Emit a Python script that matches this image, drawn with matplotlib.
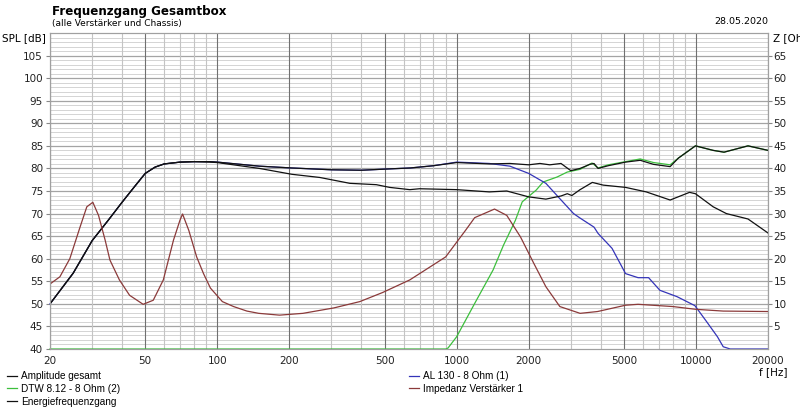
import matplotlib
matplotlib.use("Agg")
import matplotlib.pyplot as plt
from matplotlib.ticker import FixedLocator, NullFormatter

# ---------------------------------------------------------------- data
x_ticks = [20, 50, 100, 200, 500, 1000, 2000, 5000, 10000, 20000]

amp_f = [20, 25, 30, 35, 40, 45, 50, 55, 60, 70, 80, 93, 100, 150, 205, 300,
         400, 480, 525, 640, 800, 1000, 1370, 1670, 2000, 2230, 2450, 2730,
         3000, 3280, 3600, 3750, 3900, 4300, 5080, 5850, 6650, 7800, 8450,
         9950, 11800, 13100, 16500, 20000]
amp_db = [50.0, 56.8, 64.0, 68.5, 72.5, 75.9, 78.9, 80.3, 81.0, 81.4, 81.5,
          81.5, 81.4, 80.5, 80.1, 79.7, 79.6, 79.8, 79.9, 80.1, 80.6, 81.3,
          81.0, 81.1, 80.8, 81.1, 80.8, 81.1, 79.5, 80.0, 80.9, 81.1, 80.0,
          80.6, 81.4, 81.8, 80.9, 80.4, 82.3, 85.0, 84.0, 83.6, 85.0, 84.0]

dtw_f = [20, 900, 920, 1000, 1190, 1420, 1570, 1760, 1880, 2150, 2300, 2630,
         2900, 3280, 3680, 3900, 4300, 5080, 5850, 6650, 7800, 8450, 9950,
         11800, 13100, 16500, 20000]
dtw_db = [40.0, 40.0, 40.2, 42.7, 50.1, 57.5, 63.0, 68.5, 72.6, 75.2, 77.0,
          78.1, 79.2, 79.8, 81.2, 80.1, 80.8, 81.5, 82.1, 81.3, 80.8, 82.3,
          85.0, 84.0, 83.6, 85.0, 84.0]

al_f = [20, 25, 30, 35, 40, 45, 50, 55, 60, 70, 80, 93, 100, 150, 205, 300,
        400, 480, 525, 640, 800, 1000, 1370, 1670, 2000, 2360, 2700, 3080,
        3280, 3750, 3900, 4460, 5080, 5730, 6340, 7070, 8330, 9900, 11100,
        12300, 13000, 13900, 20000]
al_db = [50.0, 56.8, 64.0, 68.5, 72.5, 75.9, 78.9, 80.3, 81.0, 81.4, 81.5,
         81.5, 81.4, 80.5, 80.1, 79.7, 79.6, 79.8, 79.9, 80.1, 80.6, 81.4,
         81.1, 80.5, 78.9, 76.7, 73.3, 70.0, 69.0, 67.0, 65.6, 62.3, 56.7,
         55.8, 55.8, 53.0, 51.6, 49.6, 46.0, 42.7, 40.5, 40.0, 40.0]

energy_f = [20, 25, 30, 35, 40, 45, 50, 55, 60, 70, 80, 93, 100, 150, 205,
            268, 358, 462, 525, 637, 700, 1000, 1370, 1620, 2000, 2360, 2730,
            2900, 3030, 3280, 3690, 4100, 5080, 6200, 7800, 9400, 9950, 11800,
            13400, 16500, 20000]
energy_db = [50.0, 56.8, 64.0, 68.5, 72.5, 75.9, 78.9, 80.3, 81.0, 81.4, 81.5,
             81.4, 81.3, 80.0, 78.7, 78.0, 76.7, 76.4, 75.8, 75.3, 75.5, 75.3,
             74.8, 75.0, 73.7, 73.2, 73.9, 74.4, 74.0, 75.3, 76.9, 76.3, 75.8,
             74.8, 73.0, 74.7, 74.4, 71.5, 70.0, 68.8, 65.7]

imp_f = [20, 22, 24.2, 26.7, 28.5, 30.2, 31.9, 34, 35.6, 39, 43, 49, 54, 59.5,
         65.6, 69.8, 71.6, 76, 82, 87.6, 93.6, 105, 117, 133, 149, 182, 228,
         307, 394, 490, 637, 900, 1090, 1190, 1440, 1620, 1850, 2100, 2360,
         2700, 3280, 3880, 5080, 5730, 8020, 9950, 13000, 20000]
imp_ohm = [14.4, 16.0, 20.0, 27.0, 31.5, 32.5, 29.6, 24.1, 19.7, 15.3, 11.9,
           9.9, 10.8, 15.3, 24.1, 28.5, 29.9, 26.3, 20.4, 16.7, 13.5, 10.5,
           9.4, 8.4, 7.9, 7.5, 7.9, 9.1, 10.5, 12.5, 15.3, 20.4, 26.3, 29.1,
           31.0, 29.6, 24.8, 19.0, 13.8, 9.4, 7.9, 8.3, 9.7, 9.9, 9.4, 8.8,
           8.4, 8.3]

# ---------------------------------------------------------------- figure
plt.rcParams['font.family'] = ['DejaVu Sans']

fig = plt.figure(figsize=(8.0, 4.07), dpi=100)
ax = fig.add_axes([50 / 800, 1 - 349 / 407, 718 / 800, 316 / 407])
ax2 = ax.twinx()

ax.set_xscale('log')
ax.set_xlim(20, 20000)
ax.set_ylim(40, 110)
ax2.set_ylim(0, 70)

# grid: horizontal lines first, vertical lines over them
for v in range(41, 110):
    if v % 5:
        ax.axhline(v, color='#d4d4d4', lw=0.7, zorder=0)
for v in range(45, 110, 5):
    ax.axhline(v, color='#a4a4a4', lw=0.9, zorder=0)
minor_x = [m * 10 ** e for e in range(1, 5) for m in range(1, 10)]
minor_x = [v for v in minor_x if 20 <= v <= 20000 and v not in x_ticks]
for v in minor_x:
    ax.axvline(v, color='#c4c4c4', lw=0.8, zorder=0.5)
for v in x_ticks:
    ax.axvline(v, color='#707070', lw=0.8, zorder=0.5)

# curves
l_dtw, = ax.plot(dtw_f, dtw_db, color='#3cbf3c', lw=0.9, clip_on=False, zorder=2)
l_al, = ax.plot(al_f, al_db, color='#3434b8', lw=0.9, clip_on=False, zorder=2)
l_en, = ax.plot(energy_f, energy_db, color='#111111', lw=0.9, zorder=3)
l_amp, = ax.plot(amp_f, amp_db, color='#111111', lw=0.9, zorder=4)
l_imp, = ax2.plot(imp_f, imp_ohm, color='#8b3a3a', lw=0.9)

# axes / ticks
ax.xaxis.set_major_locator(FixedLocator(x_ticks))
ax.xaxis.set_minor_locator(FixedLocator([]))
ax.xaxis.set_minor_formatter(NullFormatter())
ax.set_xticklabels([str(v) for v in x_ticks])
ax.set_yticks(range(40, 110, 5))
ax2.set_yticks(range(5, 70, 5))
ax.tick_params(axis='x', length=0, pad=5, labelsize=7.5, colors='#222222')
ax.tick_params(axis='y', length=3, pad=2, labelsize=7.5, color='#888888',
               labelcolor='#222222')
ax2.tick_params(axis='y', length=3, pad=1, labelsize=7.5, color='#888888',
                labelcolor='#222222')
for a in (ax, ax2):
    for s in a.spines.values():
        s.set_color('#a0a0a0')
        s.set_linewidth(0.8)

# texts
fig.text(52 / 800, 1 - 12 / 407, 'Frequenzgang Gesamtbox', fontsize=8.6,
         fontweight='bold', va='center', ha='left')
fig.text(52 / 800, 1 - 23.5 / 407, '(alle Verstärker und Chassis)', fontsize=6.5,
         va='center', ha='left')
fig.text(768 / 800, 1 - 22 / 407, '28.05.2020', fontsize=6.8, va='center',
         ha='right')
fig.text(46 / 800, 1 - 38 / 407, 'SPL [dB]', fontsize=7.5, va='center',
         ha='right')
fig.text(773 / 800, 1 - 38 / 407, 'Z [Ohm]', fontsize=7.5, va='center',
         ha='left')
fig.text(773 / 800, 1 - 372 / 407, 'f [Hz]', fontsize=7.5, va='center',
         ha='center')

# legends
leg_kw = dict(frameon=False, prop={'family': 'Liberation Sans', 'size': 7.2},
              handlelength=1.0, handletextpad=0.4, labelspacing=0.28,
              borderaxespad=0, borderpad=0)
leg1 = fig.legend([l_amp, l_dtw, l_en],
                  ['Amplitude gesamt', 'DTW 8.12 - 8 Ohm (2)',
                   'Energiefrequenzgang'],
                  loc='upper left', bbox_to_anchor=(7 / 800, 1 - 371 / 407),
                  **leg_kw)
leg2 = fig.legend([l_al, l_imp],
                  ['AL 130 - 8 Ohm (1)', 'Impedanz Verstärker 1'],
                  loc='upper left', bbox_to_anchor=(409 / 800, 1 - 371 / 407),
                  **leg_kw)

fig.savefig('out.png', dpi=100, facecolor='white')
